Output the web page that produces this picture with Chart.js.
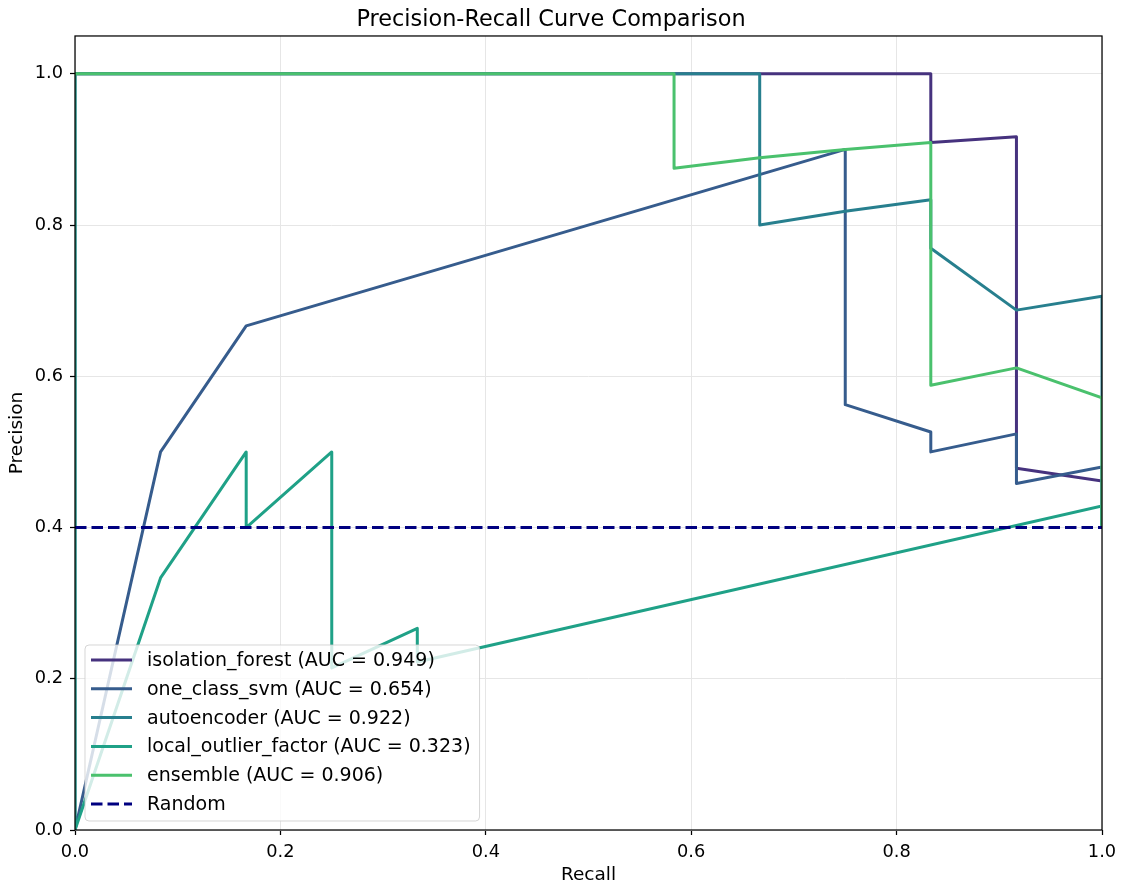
<!DOCTYPE html>
<html>
<head>
<meta charset="utf-8">
<title>Precision-Recall Curve Comparison</title>
<script src="https://cdn.jsdelivr.net/npm/chart.js@4.4.1/dist/chart.umd.min.js"></script>
<style>
  html, body { margin: 0; padding: 0; background: #fff; }
  #wrap { width: 1124px; height: 884px; position: relative; }
</style>
</head>
<body>
<div id="wrap"><canvas id="prChart"></canvas></div>
<script>
// ---------- data: PR curve points per model (recall, precision) ----------
const modelNames = ["isolation_forest", "one_class_svm", "autoencoder", "local_outlier_factor", "ensemble"];
const aucScores = [0.949, 0.654, 0.922, 0.323, 0.906];
const modelColors = ["#46327e", "#365c8d", "#277f8e", "#1fa187", "#4ac16d"];

const isoRecall = [1, 1, 0.9167, 0.9167, 0.8333, 0.8333, 0];
const isoPrecision = [0.4, 0.4615, 0.4783, 0.9167, 0.9091, 1.0, 1.0];

const svmRecall = [1, 1, 0.9167, 0.9167, 0.8333, 0.8333, 0.75, 0.75, 0.1667, 0.0833, 0, 0];
const svmPrecision = [0.4, 0.48, 0.4583, 0.5238, 0.5, 0.5263, 0.5625, 0.9, 0.6667, 0.5, 0, 1.0];

const aeRecall = [1, 1, 0.9167, 0.8333, 0.8333, 0.75, 0.6667, 0.6667, 0];
const aePrecision = [0.4, 0.7059, 0.6875, 0.7692, 0.8333, 0.8182, 0.8, 1.0, 1.0];

const lofRecall = [1, 1, 0.3333, 0.3333, 0.25, 0.25, 0.1667, 0.1667, 0.0833, 0, 0];
const lofPrecision = [0.4, 0.4286, 0.2222, 0.2667, 0.2143, 0.5, 0.4, 0.5, 0.3333, 0, 1.0];

const ensRecall = [1, 1, 0.9167, 0.8333, 0.8333, 0.75, 0.6667, 0.5833, 0.5833, 0];
const ensPrecision = [0.4, 0.5714, 0.6111, 0.5882, 0.9091, 0.9, 0.8889, 0.875, 1.0, 1.0];

// baseline = share of positives
const randomRecall = [0, 1];
const randomPrecision = [0.4, 0.4];

const recallTicks = [0, 0.2, 0.4, 0.6, 0.8, 1.0];
const precisionTicks = [0, 0.2, 0.4, 0.6, 0.8, 1.0];

const curves = [
  [isoRecall, isoPrecision],
  [svmRecall, svmPrecision],
  [aeRecall, aePrecision],
  [lofRecall, lofPrecision],
  [ensRecall, ensPrecision],
];

const FONT = "'DejaVu Sans', sans-serif";
const LINE_W = 3;
const DASH = [11.5, 5];

function toPoints(xs, ys) {
  return xs.map((x, i) => ({ x: x, y: ys[i] }));
}

const datasets = curves.map(([r, p], i) => ({
  label: `${modelNames[i]} (AUC = ${aucScores[i].toFixed(3)})`,
  data: toPoints(r, p),
  borderColor: modelColors[i],
  backgroundColor: modelColors[i],
  borderWidth: LINE_W,
  borderJoinStyle: "round",
  showLine: true,
  pointRadius: 0,
  tension: 0,
  fill: false,
  order: 10 - i, // later models drawn on top
}));

datasets.push({
  label: "Random",
  data: toPoints(randomRecall, randomPrecision),
  borderColor: "#000080",
  backgroundColor: "#000080",
  borderWidth: LINE_W,
  borderDash: DASH,
  showLine: true,
  pointRadius: 0,
  tension: 0,
  fill: false,
  order: 0,
});

// ---------- plugins ----------
// box around the plot area (all four spines)
const framePlugin = {
  id: "frame",
  afterDatasetsDraw(chart) {
    const { ctx, chartArea: a } = chart;
    ctx.save();
    ctx.strokeStyle = "#000";
    ctx.lineWidth = 1.25;
    ctx.strokeRect(a.left, a.top, a.right - a.left, a.bottom - a.top);
    ctx.restore();
  },
};

// legend in the lower left corner of the plot area
const legendPlugin = {
  id: "innerLegend",
  afterDraw(chart) {
    const { ctx, chartArea: a } = chart;
    const items = chart.data.datasets;
    const fontSize = 19;
    const rowH = 28.8;
    const lineLen = 41;
    ctx.save();
    ctx.font = `${fontSize}px ${FONT}`;
    let maxW = 0;
    items.forEach((d) => { maxW = Math.max(maxW, ctx.measureText(d.label).width); });

    const boxW = 6 + lineLen + 15 + maxW + 9;
    const boxH = (items.length - 1) * rowH + 32;
    const x0 = a.left + 10;
    const y0 = a.bottom - 9 - boxH;

    ctx.beginPath();
    ctx.roundRect(x0, y0, boxW, boxH, 4);
    ctx.fillStyle = "rgba(255,255,255,0.8)";
    ctx.fill();
    ctx.strokeStyle = "rgba(204,204,204,0.8)";
    ctx.lineWidth = 1;
    ctx.stroke();

    items.forEach((d, i) => {
      const cy = y0 + 15 + i * rowH;
      ctx.beginPath();
      ctx.strokeStyle = d.borderColor;
      ctx.lineWidth = LINE_W;
      ctx.setLineDash(d.borderDash || []);
      ctx.moveTo(x0 + 6, cy);
      ctx.lineTo(x0 + 6 + lineLen, cy);
      ctx.stroke();
      ctx.setLineDash([]);
      ctx.fillStyle = "#000";
      ctx.textBaseline = "middle";
      ctx.textAlign = "left";
      ctx.fillText(d.label, x0 + 6 + lineLen + 15, cy + 1);
    });
    ctx.restore();
  },
};

// ---------- chart ----------
function axisOptions(min, max, ticks, title, isX) {
  return {
    type: "linear",
    min: min,
    max: max,
    border: { display: false },
    grid: {
      color: "#e6e6e6",
      lineWidth: 1,
      drawTicks: true,
      tickLength: 5,
      tickColor: "#000",
      tickWidth: 1.25,
    },
    ticks: {
      color: "#000",
      font: { family: FONT, size: 17.8 },
      padding: isX ? 7 : 7,
      maxRotation: 0,
      callback: (v) => Number(v).toFixed(1),
    },
    afterBuildTicks: (scale) => {
      scale.ticks = ticks.map((v) => ({ value: v }));
    },
    afterFit: (scale) => {
      if (isX) scale.height = 54;
      else scale.width = 75;
    },
    title: {
      display: true,
      text: title,
      color: "#000",
      font: { family: FONT, size: 18.5 },
      padding: isX ? { top: 0, bottom: -2 } : { top: 6.5, bottom: 0 },
    },
  };
}

new Chart(document.getElementById("prChart"), {
  type: "scatter",
  data: { datasets: datasets },
  options: {
    responsive: true,
    maintainAspectRatio: false,
    animation: false,
    events: [],
    layout: { padding: { left: 0, right: 22, top: 0, bottom: 0 } },
    plugins: {
      legend: { display: false },
      tooltip: { enabled: false },
      title: {
        display: true,
        text: "Precision-Recall Curve Comparison",
        color: "#000",
        font: { family: FONT, size: 22.4, weight: "normal" },
        padding: { top: 6.5, bottom: 2.6 },
      },
    },
    scales: {
      x: axisOptions(0, 1, recallTicks, "Recall", true),
      y: axisOptions(0, 1.05, precisionTicks, "Precision", false),
    },
  },
  plugins: [framePlugin, legendPlugin],
});
</script>
</body>
</html>
